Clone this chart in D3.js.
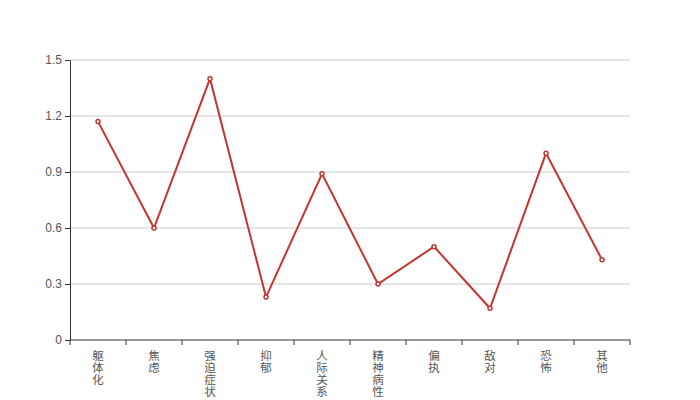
<!DOCTYPE html>
<html>
<head>
<meta charset="utf-8">
<script src="https://cdn.jsdelivr.net/npm/d3@7"></script>
<style>
  body { margin: 0; background: #fff; }
  svg { font-family: "Microsoft YaHei", "Noto Sans CJK SC", sans-serif; }
</style>
</head>
<body>
<svg id="chart" width="700" height="400"></svg>
<script>
const categories = ['躯体化', '焦虑', '强迫症状', '抑郁', '人际关系', '精神病性', '偏执', '敌对', '恐怖', '其他']
const values = [1.17, 0.6, 1.4, 0.23, 0.89, 0.3, 0.5, 0.17, 1.0, 0.43]
const yTicks = [0, 0.3, 0.6, 0.9, 1.2, 1.5]

const svg = d3.select('#chart')
const margin = { top: 60, right: 70, bottom: 60, left: 70 }
const width = 700 - margin.left - margin.right
const height = 400 - margin.top - margin.bottom

const g = svg.append('g').attr('transform', `translate(${margin.left},${margin.top})`)

const x = d3.scaleBand().domain(categories).range([0, width])
const y = d3.scaleLinear().domain([0, 1.5]).range([height, 0])

// grid lines
g.append('g')
    .selectAll('line')
    .data(yTicks.filter(d => d > 0))
    .enter()
    .append('line')
    .attr('x1', 0)
    .attr('x2', width)
    .attr('y1', d => y(d))
    .attr('y2', d => y(d))
    .attr('stroke', '#ccc')
    .attr('stroke-width', 1)

// y axis
let yAxis = g.append('g')
    .call(d3.axisLeft(y).tickValues(yTicks).tickSize(5).tickFormat(d => d))
yAxis.select('.domain').attr('stroke', '#333')
yAxis.selectAll('.tick line').attr('stroke', '#333')
yAxis.selectAll('.tick text').attr('fill', '#555').attr('font-size', 12).attr('x', -8)

// x axis, ticks at band edges
let xAxis = g.append('g').attr('transform', `translate(0,${height})`)
xAxis.append('line').attr('x1', 0).attr('x2', width).attr('stroke', '#333')
xAxis.selectAll('line.tick')
    .data(categories.concat(['__end']))
    .enter()
    .append('line')
    .attr('class', 'tick')
    .attr('x1', (d, i) => i * x.bandwidth())
    .attr('x2', (d, i) => i * x.bandwidth())
    .attr('y1', 0)
    .attr('y2', 5)
    .attr('stroke', '#333')

let labels = xAxis.selectAll('text.lbl')
    .data(categories)
    .enter()
    .append('text')
    .attr('class', 'lbl')
    .attr('text-anchor', 'middle')
    .attr('font-size', 11.5)
    .attr('fill', '#555')

labels.each(function (d) {
    let t = d3.select(this)
    Array.from(d).forEach((ch, i) => {
        t.append('tspan')
            .attr('x', x(d) + x.bandwidth() / 2)
            .attr('y', 20 + i * 12)
            .text(ch)
    })
})

// line
const line = d3.line()
    .x((d, i) => x(categories[i]) + x.bandwidth() / 2)
    .y(d => y(d))

g.append('path')
    .datum(values)
    .attr('d', line)
    .attr('fill', 'none')
    .attr('stroke', '#c23531')
    .attr('stroke-width', 2)

g.selectAll('circle')
    .data(values)
    .enter()
    .append('circle')
    .attr('cx', (d, i) => x(categories[i]) + x.bandwidth() / 2)
    .attr('cy', d => y(d))
    .attr('r', 2)
    .attr('fill', '#fff')
    .attr('stroke', '#c23531')
    .attr('stroke-width', 1.5)
</script>
</body>
</html>
